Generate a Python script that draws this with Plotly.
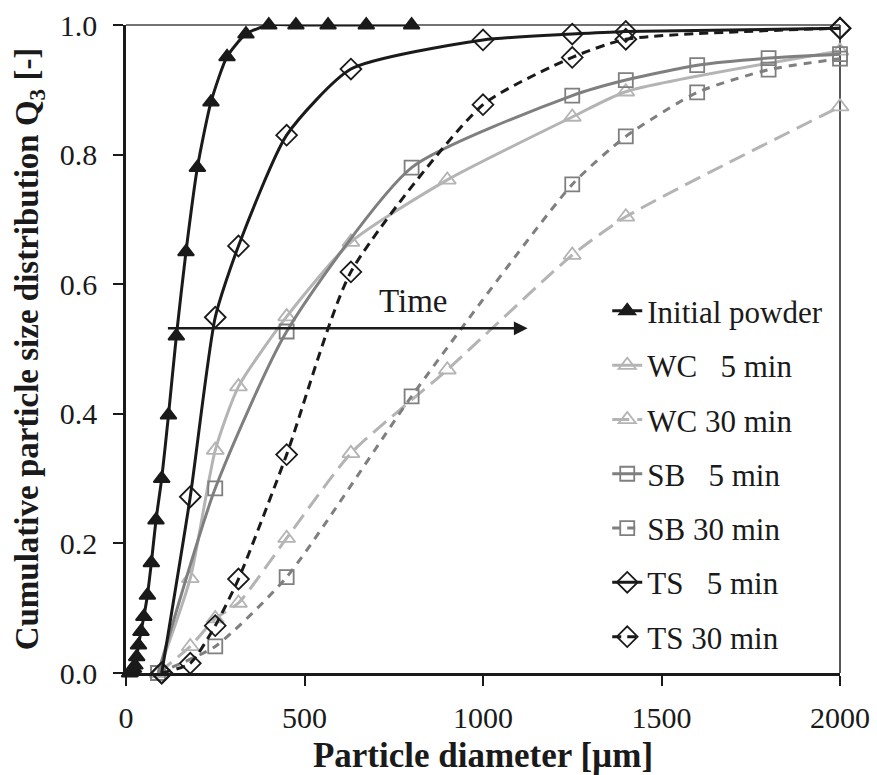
import plotly.graph_objects as go

# Cumulative particle size distributions Q3 for the initial powder and the
# three granulation processes (WC, SB, TS) after 5 and 30 min.
initial_x = [10, 12.5, 15, 18, 21, 25, 30, 35, 42, 50, 60, 71, 84, 100, 119, 141,
             168, 200, 238, 283, 336, 400, 476, 566, 673, 800]
initial_q3 = [0.0, 0.001, 0.002, 0.004, 0.007, 0.012, 0.025, 0.043, 0.064, 0.087,
              0.12, 0.17, 0.236, 0.30, 0.398, 0.52, 0.65, 0.78, 0.881, 0.951,
              0.986, 1.0, 1.0, 1.0, 1.0, 1.0]

wc_x = [90, 180, 250, 315, 450, 630, 900, 1250, 1400, 2000]
wc5_q3 = [0.0, 0.146, 0.344, 0.442, 0.55, 0.665, 0.761, 0.858, 0.897, 0.960]
wc30_q3 = [0.0, 0.041, 0.084, 0.108, 0.208, 0.339, 0.468, 0.645, 0.704, 0.874]

sb_x = [90, 250, 450, 800, 1250, 1400, 1600, 1800, 2000]
sb5_q3 = [0.0, 0.285, 0.527, 0.780, 0.891, 0.915, 0.938, 0.949, 0.955]
sb30_q3 = [0.0, 0.041, 0.148, 0.427, 0.754, 0.828, 0.896, 0.931, 0.948]

ts_x = [100, 180, 250, 315, 450, 630, 1000, 1250, 1400, 2000]
ts5_q3 = [0.0, 0.272, 0.549, 0.659, 0.830, 0.932, 0.977, 0.986, 0.990, 0.995]
ts30_q3 = [0.0, 0.015, 0.073, 0.145, 0.337, 0.619, 0.877, 0.950, 0.978, 0.995]

x_ticks = [0, 500, 1000, 1500, 2000]
y_ticks = [0.0, 0.2, 0.4, 0.6, 0.8, 1.0]

BLACK = "#1a1a1a"
MID_GREY = "#7f7f7f"
LIGHT_GREY = "#b4b4b4"
FONT = "Liberation Serif"
NB = "\u00a0"

series = [
    ("Initial" + NB + "powder", initial_x, initial_q3, BLACK, "solid", "triangle-up", 14, 3),
    ("WC" + NB * 3 + "5 min", wc_x, wc5_q3, LIGHT_GREY, "solid", "triangle-up-open", 15, 3),
    ("WC 30 min", wc_x, wc30_q3, LIGHT_GREY, "17px,8px", "triangle-up-open", 15, 3),
    ("SB" + NB * 3 + "5 min", sb_x, sb5_q3, MID_GREY, "solid", "square-open", 14, 3),
    ("SB 30 min", sb_x, sb30_q3, MID_GREY, "8px,7px", "square-open", 14, 3),
    ("TS" + NB * 3 + "5 min", ts_x, ts5_q3, BLACK, "solid", "diamond-open", 16, 3),
    ("TS 30 min", ts_x, ts30_q3, BLACK, "9px,6px", "diamond-open", 16, 3),
]

fig = go.Figure()
for i, (name, xs, ys, color, dash, symbol, msize, lw) in enumerate(series):
    fig.add_trace(go.Scatter(
        x=xs, y=ys, name=name, mode="lines+markers",
        line=dict(color=color, width=lw, dash=dash, shape="spline", smoothing=0.6),
        marker=dict(symbol=symbol, size=msize, color=color,
                    line=dict(color=color, width=1.8)),
        legendgroup=f"g{i}",
        cliponaxis=False,
    ))

# "Time" arrow across the curves
arrow_y = 0.532
fig.add_annotation(x=1125, y=arrow_y, ax=109, ay=arrow_y, xref="x", yref="y",
                   axref="x", ayref="y", text=" ", showarrow=True,
                   arrowhead=2, arrowsize=1.1, arrowwidth=2.5, arrowcolor=BLACK)
fig.add_annotation(x=803, y=0.574, xref="x", yref="y", text="Time",
                   showarrow=False, font=dict(family=FONT, size=33, color=BLACK))

# thin frame on top and right
fig.add_shape(type="line", xref="paper", yref="paper", x0=0, x1=1, y0=1, y1=1,
              line=dict(color="#444444", width=1.5), layer="below")
fig.add_shape(type="line", xref="paper", yref="paper", x0=1, x1=1, y0=0, y1=1,
              line=dict(color="#444444", width=1.8), layer="below")

fig.update_layout(
    width=877, height=775,
    margin=dict(l=126, r=37, t=25, b=102, autoexpand=False),
    paper_bgcolor="white", plot_bgcolor="white",
    font=dict(family=FONT, color=BLACK),
    showlegend=True,
    legend=dict(x=0.674, y=0.60, xanchor="left", yanchor="top",
                font=dict(family=FONT, size=31, color=BLACK),
                traceorder="grouped", tracegroupgap=11,
                bgcolor="rgba(0,0,0,0)", itemwidth=30),
    xaxis=dict(range=[0, 2000], tickvals=x_ticks, showgrid=False, zeroline=False,
               automargin=False,
               showline=True, linecolor=BLACK, linewidth=2.5,
               ticks="outside", ticklen=10, tickwidth=2, tickcolor=BLACK,
               tickfont=dict(family=FONT, size=30, color=BLACK),
               ticklabelstandoff=6,
               title=dict(text="<b>Particle diameter [µm]</b>", standoff=14,
                          font=dict(family=FONT, size=35, color=BLACK))),
    yaxis=dict(range=[0, 1], tickvals=y_ticks, tickformat=".1f", showgrid=False,
               zeroline=False, showline=True, linecolor=BLACK, linewidth=2.5,
               automargin=False,
               ticks="outside", ticklen=10, tickwidth=2, tickcolor=BLACK,
               tickfont=dict(family=FONT, size=30, color=BLACK),
               ticklabelstandoff=10,
               title=dict(text="<b>Cumulative particle size distribution Q<sub>3</sub> [-]</b>",
                          standoff=12,
                          font=dict(family=FONT, size=33, color=BLACK))),
)

fig.write_html("out.html")
